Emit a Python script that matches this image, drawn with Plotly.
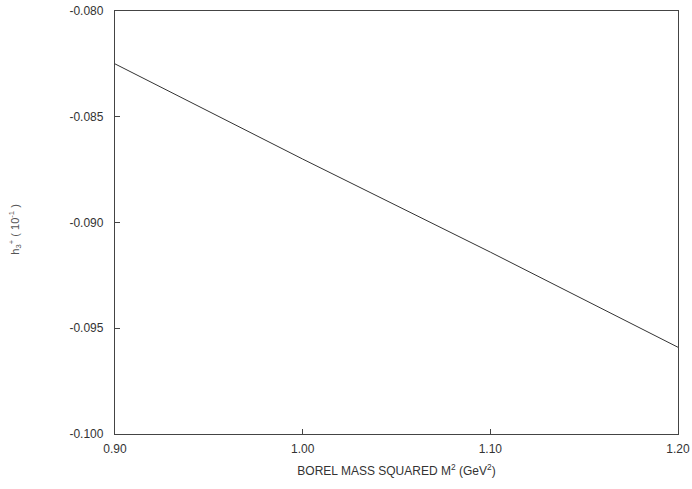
import plotly.graph_objects as go

borel_m2 = [0.90, 1.00, 1.10, 1.20]
h3_plus = [-0.0825, -0.0870, -0.0914, -0.0959]

x_ticks = [0.90, 1.00, 1.10, 1.20]
x_tick_labels = ["0.90", "1.00", "1.10", "1.20"]
y_ticks = [-0.100, -0.095, -0.090, -0.085, -0.080]
y_tick_labels = ["-0.100", "-0.095", "-0.090", "-0.085", "-0.080"]
y_title = "h<sub>3</sub><sup>+</sup> ( 10<sup>-1</sup> )"

fig = go.Figure()
fig.add_trace(go.Scatter(x=borel_m2, y=h3_plus, mode="lines",
                         line=dict(color="#333333", width=1), showlegend=False))

axis_common = dict(showline=True, linecolor="#444444", linewidth=1.3, mirror=True,
                   ticks="inside", ticklen=5, tickcolor="#444444", showgrid=False,
                   zeroline=False, automargin=False, ticklabeloverflow="allow",
                   tickfont=dict(family="Liberation Sans, Arial", size=12, color="#333333"))

fig.update_layout(
    width=692, height=489,
    margin=dict(l=115, r=14, t=11, b=55),
    paper_bgcolor="white", plot_bgcolor="white",
    xaxis=dict(range=[0.90, 1.20], tickvals=x_ticks, ticktext=x_tick_labels,
               ticklabelstandoff=3,
               title=dict(text="BOREL MASS SQUARED M<sup>2</sup> (GeV<sup>2</sup>)",
                          font=dict(family="Liberation Sans, Arial", size=12, color="#333333"),
                          standoff=12),
               **axis_common),
    yaxis=dict(range=[-0.100, -0.080], tickvals=y_ticks, ticktext=y_tick_labels,
               ticklabelstandoff=8,
               **axis_common),
    annotations=[dict(text=y_title, xref="paper", yref="paper", x=-0.178, y=0.485,
                      textangle=-90, showarrow=False, xanchor="center", yanchor="middle",
                      font=dict(family="Liberation Sans, Arial", size=11, color="#555555"))],
)

fig.write_html("out.html", config={"displayModeBar": False},
               post_script="document.body.style.margin='0';document.body.style.padding='0';")
